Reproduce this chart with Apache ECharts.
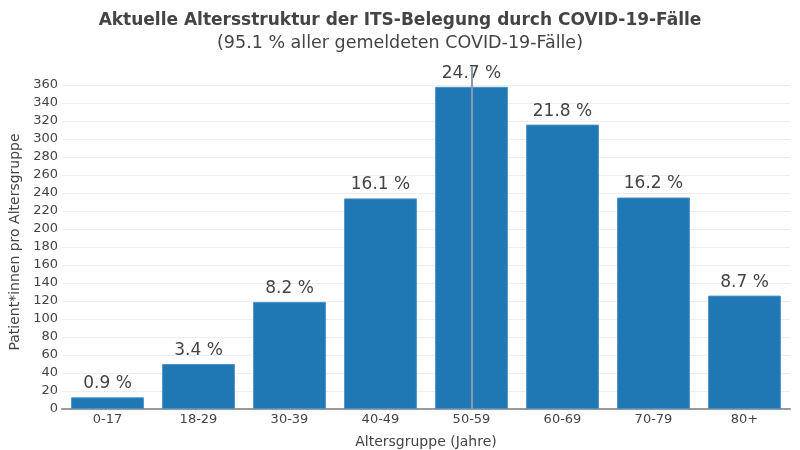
<!DOCTYPE html>
<html><head><meta charset="utf-8">
<script src="https://cdn.jsdelivr.net/npm/echarts@6/dist/echarts.min.js"></script>
<style>html,body{margin:0;padding:0;background:#fff}#c{width:800px;height:450px}</style>
</head><body><div id="c"></div>
<script>
const categories = ['0-17','18-29','30-39','40-49','50-59','60-69','70-79','80+'];
const patients = [13, 50, 119, 234, 358, 316, 235, 126];
const percentLabels = ['0.9 %','3.4 %','8.2 %','16.1 %','24.7 %','21.8 %','16.2 %','8.7 %'];
const highlightCategory = '50-59';

const FONT = 'Verdana, "DejaVu Sans", sans-serif';
const chart = echarts.init(document.getElementById('c'));
chart.setOption({
  animation: false,
  textStyle: {fontFamily: FONT},
  title: {
    text: 'Aktuelle Altersstruktur der ITS-Belegung durch COVID-19-Fälle',
    subtext: '(95.1 % aller gemeldeten COVID-19-Fälle)',
    left: 'center', top: 7, itemGap: 5,
    textStyle: {fontFamily: FONT, fontSize: 17, fontWeight: 'bold', color: '#444'},
    subtextStyle: {fontFamily: FONT, fontSize: 17.5, color: '#444'}
  },
  grid: {left: 62, right: 10, top: 85, bottom: 41, containLabel: false, outerBoundsMode: 'none'},
  xAxis: {
    type: 'category', data: categories,
    name: 'Altersgruppe (Jahre)', nameLocation: 'middle', nameGap: 26,
    nameTextStyle: {fontFamily: FONT, fontSize: 14, color: '#444'},
    axisLine: {lineStyle: {color: '#999', width: 2}},
    axisTick: {show: false},
    axisLabel: {fontFamily: FONT, fontSize: 13, color: '#444', margin: 4}
  },
  yAxis: {
    type: 'value', min: 0, max: 360, interval: 20,
    name: 'Patient*innen pro Altersgruppe', nameLocation: 'middle', nameGap: 37,
    nameTextStyle: {fontFamily: FONT, fontSize: 14, color: '#444', padding: [0, 0, 0, 10]},
    axisLine: {show: false}, axisTick: {show: false},
    axisLabel: {fontFamily: FONT, fontSize: 13, color: '#444', margin: 4},
    splitLine: {lineStyle: {color: '#eee', width: 1}}
  },
  series: [{
    type: 'bar', data: patients, barCategoryGap: '20%',
    itemStyle: {color: '#1f77b4', borderColor: '#4a93c6', borderWidth: 1},
    label: {
      show: true, position: 'top', distance: 5,
      fontFamily: FONT, fontSize: 17, color: '#444',
      formatter: p => percentLabels[p.dataIndex]
    },
    markLine: {
      silent: true, symbol: 'none', label: {show: false},
      lineStyle: {color: '#8a9cae', width: 2, type: 'solid'},
      data: [[{xAxis: highlightCategory, y: 66}, {xAxis: highlightCategory, yAxis: 0}]]
    }
  }]
});
</script></body></html>
